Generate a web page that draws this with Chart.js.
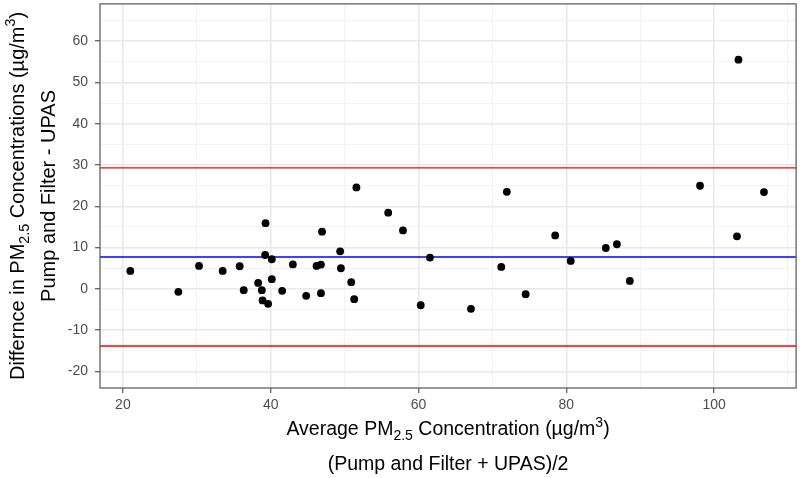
<!DOCTYPE html>
<html>
<head>
<meta charset="utf-8">
<script src="https://cdn.jsdelivr.net/npm/chart.js@4/dist/chart.umd.min.js"></script>
<style>
  html, body { margin: 0; padding: 0; background: #fff; }
  #wrap { width: 800px; height: 478px; }
</style>
</head>
<body>
<div id="wrap"><canvas id="baPlot" width="800" height="478"></canvas></div>
<script>
// average of the two methods (x) and their difference (y)
const avgConc = [21.0, 27.5, 30.3, 33.5, 35.8, 36.35, 38.3, 38.8, 38.9, 39.25, 39.3, 39.65,
  40.15, 40.15, 41.55, 43.0, 44.8, 46.2, 46.8, 46.8, 46.95, 49.4, 49.5, 50.9, 51.3, 51.6,
  55.9, 57.9, 60.3, 61.55, 67.1, 71.2, 71.95, 74.5, 78.5, 80.6, 85.35, 86.85, 88.6,
  98.1, 103.1, 103.3, 106.75];
const diffConc = [4.35, -0.72, 5.56, 4.35, 5.48, -0.31, 1.45, -0.31, -2.8, 8.2, 15.9, -3.62,
  7.17, 2.34, -0.48, 5.93, -1.69, 5.56, 5.89, -1.04, 13.86, 9.1, 5.0, 1.62, -2.49, 24.57,
  18.45, 14.15, -3.97, 7.58, -4.83, 5.31, 23.5, -1.28, 12.95, 6.76, 9.9, 10.8, 1.93,
  24.97, 12.73, 55.5, 23.45];

const meanDiff = 7.73;
const upperLoA = 29.3;
const lowerLoA = -13.84;

const xTicks = [20, 30, 40, 50, 60, 70, 80, 90, 100, 110];
const yTicks = [-20, -15, -10, -5, 0, 5, 10, 15, 20, 25, 30, 35, 40, 45, 50, 55, 60, 65];

const X_MIN = 16.9, X_MAX = 111.1, Y_MIN = -24, Y_MAX = 69;

function hline(y, color) {
  return {
    type: 'line',
    data: [{ x: X_MIN, y: y }, { x: X_MAX, y: y }],
    borderColor: color,
    borderWidth: 1.4,
    pointRadius: 0,
    showLine: true,
    fill: false
  };
}

const FONT = '"Liberation Sans", Arial, sans-serif';

// draws a line of text with sub/superscript pieces, centred on cx
function drawRich(ctx, parts, cx, baseY, size) {
  const small = size * 0.72;
  let total = 0;
  parts.forEach(p => {
    ctx.font = (p.sub || p.sup ? small : size) + 'px ' + FONT;
    p.w = ctx.measureText(p.t).width;
    total += p.w;
  });
  let x = cx - total / 2;
  ctx.textAlign = 'left';
  ctx.textBaseline = 'alphabetic';
  parts.forEach(p => {
    ctx.font = (p.sub || p.sup ? small : size) + 'px ' + FONT;
    let dy = 0;
    if (p.sub) dy = size * 0.28;
    if (p.sup) dy = -size * 0.42;
    ctx.fillText(p.t, x, baseY + dy);
    x += p.w;
  });
}

const titles = {
  id: 'titles',
  afterDraw(chart) {
    const { ctx, chartArea: a } = chart;
    const cx = (a.left + a.right) / 2;
    const cy = (a.top + a.bottom) / 2;
    ctx.save();
    ctx.fillStyle = '#000';
    drawRich(ctx, [{ t: 'Average PM' }, { t: '2.5', sub: true }, { t: ' Concentration (µg/m' },
      { t: '3', sup: true }, { t: ')' }], cx, 435, 19.5);
    drawRich(ctx, [{ t: '(Pump and Filter + UPAS)/2' }], cx, 470, 19.5);
    ctx.translate(0, cy);
    ctx.rotate(-Math.PI / 2);
    drawRich(ctx, [{ t: 'Differnce in PM' }, { t: '2.5', sub: true }, { t: ' Concentrations (µg/m' },
      { t: '3', sup: true }, { t: ')' }], 0, 23.5, 20);
    drawRich(ctx, [{ t: 'Pump and Filter - UPAS' }], 0, 54.5, 20);
    ctx.restore();
  }
};

const frame = {
  id: 'frame',
  afterDatasetsDraw(chart) {
    const { ctx, chartArea: a } = chart;
    ctx.save();
    ctx.strokeStyle = '#555';
    ctx.lineWidth = 1.2;
    ctx.strokeRect(a.left, a.top, a.right - a.left, a.bottom - a.top);
    ctx.restore();
  }
};

const isMajorX = v => v % 20 === 0;
const isMajorY = v => v % 10 === 0;

new Chart(document.getElementById('baPlot').getContext('2d'), {
  type: 'scatter',
  data: {
    datasets: [
      {
        label: 'Difference',
        data: avgConc.map((x, i) => ({ x: x, y: diffConc[i] })),
        backgroundColor: '#000',
        borderWidth: 0,
        pointRadius: 3.9,
        pointHoverRadius: 3.9
      },
      hline(upperLoA, '#FF0000'),
      hline(meanDiff, '#0000FF'),
      hline(lowerLoA, '#FF0000')
    ]
  },
  options: {
    responsive: false,
    animation: false,
    events: [],
    layout: { padding: { left: 0, right: 3, top: 3, bottom: 0 } },
    plugins: {
      legend: { display: false },
      tooltip: { enabled: false }
    },
    scales: {
      x: {
        type: 'linear',
        min: X_MIN,
        max: X_MAX,
        afterBuildTicks: s => { s.ticks = xTicks.map(v => ({ value: v })); },
        afterFit: s => { s.height = 90; s.paddingLeft = 0; s.paddingRight = 0; },
        border: { display: false },
        grid: {
          color: c => isMajorX(c.tick.value) ? '#E8E8E8' : '#F3F3F3',
          lineWidth: c => isMajorX(c.tick.value) ? 1.5 : 1,
          tickColor: c => isMajorX(c.tick.value) ? '#333' : 'rgba(0,0,0,0)',
          tickLength: 5,
          tickWidth: 1
        },
        ticks: {
          autoSkip: false,
          maxRotation: 0,
          padding: 4,
          color: '#4D4D4D',
          font: { family: FONT, size: 14 },
          callback: v => isMajorX(v) ? String(v) : ''
        }
      },
      y: {
        type: 'linear',
        min: Y_MIN,
        max: Y_MAX,
        afterBuildTicks: s => { s.ticks = yTicks.map(v => ({ value: v })); },
        afterFit: s => { s.width = 100; s.paddingTop = 0; s.paddingBottom = 0; },
        border: { display: false },
        grid: {
          color: c => isMajorY(c.tick.value) ? '#E8E8E8' : '#F3F3F3',
          lineWidth: c => isMajorY(c.tick.value) ? 1.5 : 1,
          tickColor: c => isMajorY(c.tick.value) ? '#333' : 'rgba(0,0,0,0)',
          tickLength: 5,
          tickWidth: 1
        },
        ticks: {
          autoSkip: false,
          padding: 7,
          color: '#4D4D4D',
          font: { family: FONT, size: 14 },
          callback: v => isMajorY(v) ? String(v) : ''
        }
      }
    }
  },
  plugins: [frame, titles]
});
</script>
</body>
</html>
